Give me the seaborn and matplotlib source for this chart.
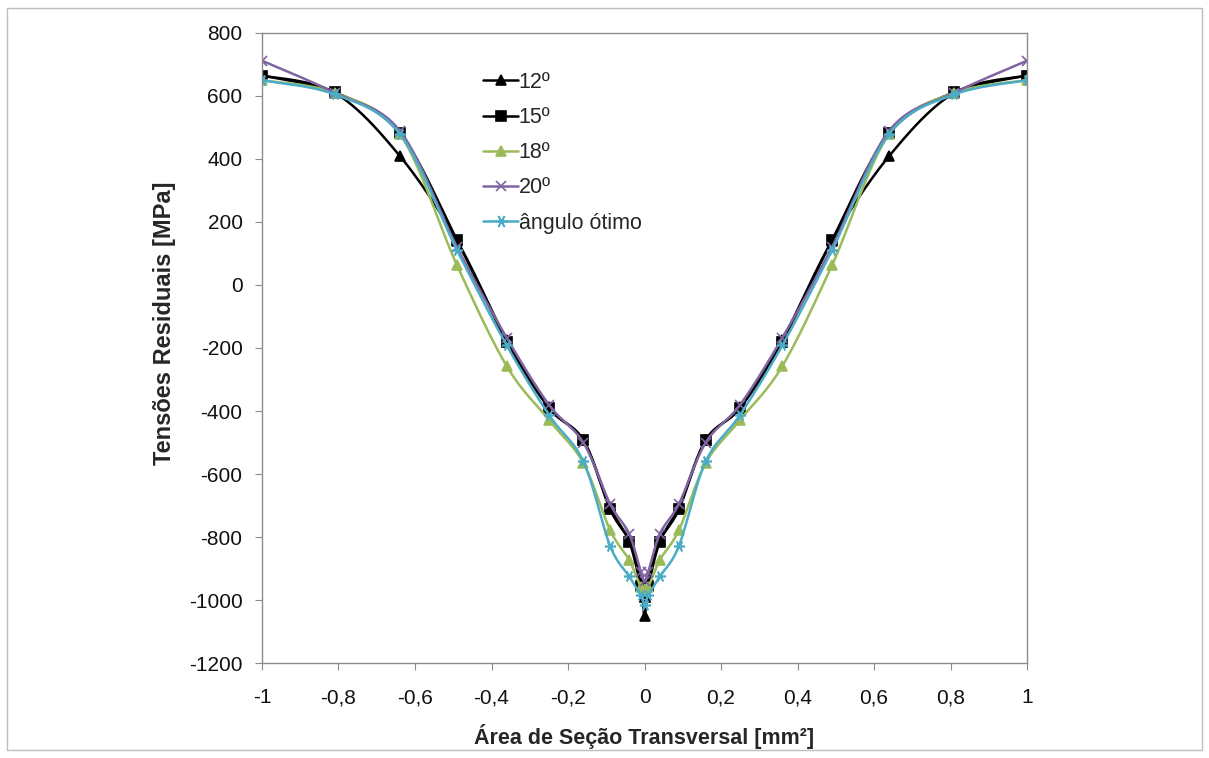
import numpy as np
import pandas as pd
import matplotlib
matplotlib.use("Agg")
import matplotlib.pyplot as plt
import seaborn as sns
from matplotlib.lines import Line2D
from matplotlib.patches import Rectangle

# ---------------- data ----------------
area = [-1, -0.81, -0.64, -0.49, -0.36, -0.25, -0.16, -0.09, -0.04, -0.01, 0,
        0.01, 0.04, 0.09, 0.16, 0.25, 0.36, 0.49, 0.64, 0.81, 1]

s12 = [665, 610, 410, 140, -175, -388, -492, -705, -812, -940, -1052,
       -940, -812, -705, -492, -388, -175, 140, 410, 610, 665]
s15 = [665, 612, 482, 142, -180, -390, -493, -712, -815, -955, -990,
       -955, -815, -712, -493, -390, -180, 142, 482, 612, 665]
s18 = [650, 610, 480, 62, -258, -428, -565, -778, -873, -958, -965,
       -958, -873, -778, -565, -428, -258, 62, 480, 610, 650]
s20 = [712, 610, 490, 120, -168, -380, -500, -695, -790, -910, -940,
       -910, -790, -695, -500, -380, -168, 120, 490, 610, 712]
sopt = [650, 605, 480, 110, -192, -412, -560, -828, -925, -985, -1015,
        -985, -925, -828, -560, -412, -192, 110, 480, 605, 650]

labels = ["12º", "15º", "18º", "20º", "ângulo ótimo"]
series = [s12, s15, s18, s20, sopt]
colors = ["#000000", "#000000", "#9BBB59", "#8064A2", "#4BACC6"]
markers = ["^", "s", "^", "x", (6, 2, 90)]
msizes = [6.5, 6.5, 6.5, 6.5, 8]

xticks = [-1, -0.8, -0.6, -0.4, -0.2, 0, 0.2, 0.4, 0.6, 0.8, 1]
yticks = list(range(-1200, 801, 200))


def smooth(xs, ys, n=24):
    """Excel-like smoothed line (Catmull-Rom through the data points)."""
    xs = np.asarray(xs, float)
    ys = np.asarray(ys, float)
    px, py = [], []
    m = len(xs)
    for i in range(m - 1):
        x0, y0 = (xs[i - 1], ys[i - 1]) if i > 0 else (xs[i], ys[i])
        x1, y1 = xs[i], ys[i]
        x2, y2 = xs[i + 1], ys[i + 1]
        x3, y3 = (xs[i + 2], ys[i + 2]) if i + 2 < m else (xs[i + 1], ys[i + 1])
        c1x, c1y = x1 + (x2 - x0) / 6, y1 + (y2 - y0) / 6
        c2x, c2y = x2 - (x3 - x1) / 6, y2 - (y3 - y1) / 6
        t = np.linspace(0, 1, n, endpoint=(i == m - 2))
        a = (1 - t) ** 3
        b = 3 * (1 - t) ** 2 * t
        c = 3 * (1 - t) * t ** 2
        d = t ** 3
        px.extend(a * x1 + b * c1x + c * c2x + d * x2)
        py.extend(a * y1 + b * c1y + c * c2y + d * y2)
    return np.array(px), np.array(py)


sns.set_theme(style="white")
plt.rcParams["font.family"] = ["Liberation Sans", "DejaVu Sans"]

fig = plt.figure(figsize=(12.09, 7.58), dpi=100)
ax = fig.add_axes([0.2167, 0.1253, 0.6328, 0.8312])

for lab, ys, col, mk, ms in zip(labels, series, colors, markers, msizes):
    sx, sy = smooth(area, ys)
    sns.lineplot(x=sx, y=sy, ax=ax, color=col, lw=1.8, sort=False,
                 estimator=None, legend=False)
    ax.plot(area, ys, linestyle="none", marker=mk, markersize=ms, color=col,
            markeredgecolor=col, markeredgewidth=1.2)

ax.set_xlim(-1, 1)
ax.set_ylim(-1200, 800)
ax.set_xticks(xticks)
ax.set_yticks(yticks)
ax.set_xticklabels([("%g" % v).replace(".", ",") for v in xticks])
ax.set_yticklabels([str(v) for v in yticks])
ax.tick_params(axis="both", labelsize=15, length=5, width=0.8,
               direction="out", bottom=True, left=True, color="#8c8c8c")
ax.tick_params(axis="x", pad=13)
ax.tick_params(axis="y", pad=9)
for t in ax.get_xticklabels() + ax.get_yticklabels():
    t.set_color("#111111")
for sp in ax.spines.values():
    sp.set_color("#8c8c8c")
    sp.set_linewidth(1.0)

ax.set_xlabel("Área de Seção Transversal [mm²]", fontsize=15.5,
              fontweight="bold", labelpad=12)
ax.set_ylabel("Tensões Residuais [MPa]", fontsize=17, fontweight="bold")
ax.yaxis.set_label_coords(-0.113, 0.54)

handles = [Line2D([0], [0], color=c, lw=1.8, marker=m, markersize=s + 1,
                  markeredgecolor=c, markeredgewidth=1.2)
           for c, m, s in zip(colors, markers, msizes)]
ax.legend(handles, labels, loc="upper left", bbox_to_anchor=(0.278, 0.952),
          frameon=False, fontsize=15.5, handlelength=1.6, handletextpad=0.05,
          labelspacing=0.66, borderaxespad=0)

fig.patches.append(Rectangle((0.006, 0.01), 0.988, 0.98,
                             transform=fig.transFigure, fill=False,
                             edgecolor="#bdbdbd", lw=1.0))

fig.savefig("out.png", dpi=100, facecolor="white")
